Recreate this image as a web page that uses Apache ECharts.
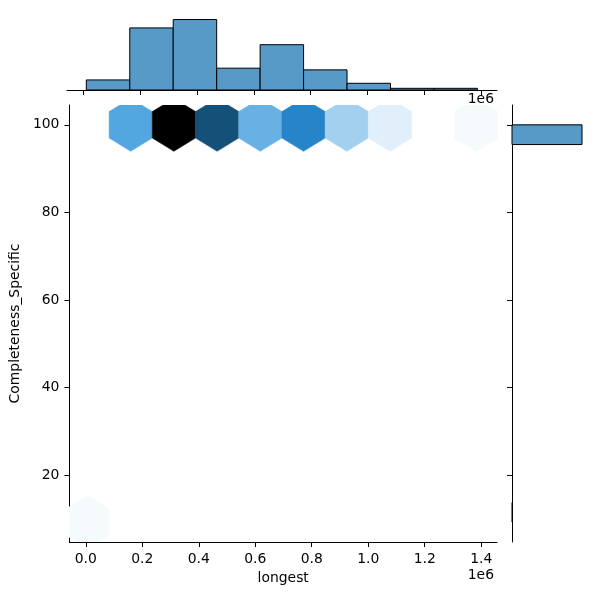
<!DOCTYPE html>
<html>
<head>
<meta charset="utf-8">
<script src="https://cdn.jsdelivr.net/npm/echarts@6/dist/echarts.min.js"></script>
<style>
html, body { margin: 0; padding: 0; background: #fff; }
#main { width: 600px; height: 600px; }
</style>
</head>
<body>
<div id="main"></div>
<script>
// ticks
var xTicks = [0, 200000, 400000, 600000, 800000, 1000000, 1200000, 1400000];
var yTicks = [20, 40, 60, 80, 100];

// top marginal histogram (longest)
var histEdges = [10000, 163000, 316000, 469000, 622000, 775000, 928000, 1081000, 1234000, 1387000];
var histCounts = [6, 37, 42, 13, 27, 12, 4, 1, 1];

// right marginal histogram (Completeness_Specific)
var yBinLow = [9.3, 95.5];
var yBinHigh = [13.8, 100];
var yBinCounts = [1, 142];

// hexbin cells
var hexX = [6000, 159000, 312000, 465000, 618000, 771000, 924000, 1077000, 1383000];
var hexY = [9.3, 100, 100, 100, 100, 100, 100, 100, 100];
var hexCounts = [1, 17, 43, 31, 15, 23, 9, 3, 1];
var hexW = 153000, hexR = 6.05;

var FONT = 'DejaVu Sans';
var FS = 13.9;

// seaborn style colormap: C0 hue, lightness 1 -> 0
function rgb2hls(r, g, b) {
	var mx = Math.max(r, g, b), mn = Math.min(r, g, b);
	var l = (mx + mn) / 2, h = 0, s = 0;
	if (mx != mn) {
		var d = mx - mn;
		s = l > 0.5 ? d / (2 - mx - mn) : d / (mx + mn);
		if (mx == r) h = ((g - b) / d) % 6;
		else if (mx == g) h = (b - r) / d + 2;
		else h = (r - g) / d + 4;
		h = h / 6; if (h < 0) h += 1;
	}
	return [h, l, s];
}
function hue2(p, q, t) {
	if (t < 0) t += 1; if (t > 1) t -= 1;
	if (t < 1/6) return p + (q - p) * 6 * t;
	if (t < 1/2) return q;
	if (t < 2/3) return p + (q - p) * (2/3 - t) * 6;
	return p;
}
function hls2rgb(h, l, s) {
	var q = l < 0.5 ? l * (1 + s) : l + s - l * s;
	var p = 2 * l - q;
	return [hue2(p, q, h + 1/3), hue2(p, q, h), hue2(p, q, h - 1/3)];
}
var base = rgb2hls(31/255, 119/255, 180/255);
var stops = [];
for (var i = 0; i < 12; i++) {
	stops.push(hls2rgb(base[0], 1 - i / 11, base[2]));
}
var maxCount = Math.max.apply(null, hexCounts);
function hexColor(c) {
	var t = c / maxCount * 11;
	var k = Math.min(Math.floor(t), 10);
	var f = t - k;
	var a = stops[k], b = stops[k + 1];
	var rgb = [0, 1, 2].map(function (j) {
		return Math.round(255 * Math.min(1, Math.max(0, a[j] + (b[j] - a[j]) * f)));
	});
	return 'rgb(' + rgb.join(',') + ')';
}

var hexData = hexX.map(function (x, i) { return [x, hexY[i], hexCounts[i]]; });
var topData = histCounts.map(function (c, i) { return [histEdges[i], histEdges[i + 1], c]; });
var rightData = yBinCounts.map(function (c, i) { return [yBinLow[i], yBinHigh[i], c]; });

var barColor = 'rgb(87,153,199)';

var chart = echarts.init(document.getElementById('main'));
chart.setOption({
	animation: false,
	backgroundColor: '#fff',
	grid: [
		{ left: 67, top: 105, width: 430, height: 437 },
		{ left: 67, top: 16, width: 430, height: 74 },
		{ left: 512, top: 105, width: 73.5, height: 437 }
	],
	xAxis: [
		{
			gridIndex: 0, type: 'value', min: -58000, max: 1456000,
			name: 'longest', nameLocation: 'middle', nameGap: 26,
			nameTextStyle: { color: '#000', fontFamily: FONT, fontSize: FS },
			axisLine: { show: true, onZero: false, lineStyle: { color: '#000', width: 1 } },
			axisTick: { show: true, length: 5, customValues: xTicks, lineStyle: { color: '#000' } },
			axisLabel: {
				customValues: xTicks, margin: 10, color: '#000', fontFamily: FONT, fontSize: FS,
				formatter: function (v) { return (v / 1e6).toFixed(1); }
			},
			splitLine: { show: false }
		},
		{
			gridIndex: 1, type: 'value', min: -58000, max: 1456000,
			axisLine: { show: true, onZero: false, lineStyle: { color: '#000', width: 1 } },
			axisTick: { show: true, length: 5, customValues: xTicks, lineStyle: { color: '#000' } },
			axisLabel: { show: false },
			splitLine: { show: false }
		},
		{
			gridIndex: 2, type: 'value', min: 0, max: 149.1, show: false
		}
	],
	yAxis: [
		{
			gridIndex: 0, type: 'value', min: 4.77, max: 104.53,
			name: 'Completeness_Specific', nameLocation: 'middle', nameGap: 36,
			nameTextStyle: { color: '#000', fontFamily: FONT, fontSize: FS },
			axisLine: { show: true, onZero: false, lineStyle: { color: '#000', width: 1 } },
			axisTick: { show: true, length: 5, customValues: yTicks, lineStyle: { color: '#000' } },
			axisLabel: { customValues: yTicks, margin: 10, color: '#000', fontFamily: FONT, fontSize: FS },
			splitLine: { show: false }
		},
		{
			gridIndex: 1, type: 'value', min: 0, max: 44.1, show: false
		},
		{
			gridIndex: 2, type: 'value', min: 4.77, max: 104.53,
			axisLine: { show: true, onZero: false, lineStyle: { color: '#000', width: 1 } },
			axisTick: { show: true, length: 5, customValues: yTicks, lineStyle: { color: '#000' } },
			axisLabel: { show: false },
			splitLine: { show: false }
		}
	],
	graphic: [
		{ type: 'text', right: 106, top: 568, style: { text: '1e6', fill: '#000', font: FS + 'px "' + FONT + '"' } },
		{ type: 'text', right: 106, top: 92, style: { text: '1e6', fill: '#000', font: FS + 'px "' + FONT + '"' } }
	],
	series: [
		{
			type: 'custom', xAxisIndex: 0, yAxisIndex: 0, clip: true,
			data: hexData,
			renderItem: function (params, api) {
				var cx = api.value(0), cy = api.value(1);
				var col = hexColor(api.value(2));
				var w = hexW / 2;
				var pts = [
					[cx + w, cy - hexR / 2], [cx + w, cy + hexR / 2], [cx, cy + hexR],
					[cx - w, cy + hexR / 2], [cx - w, cy - hexR / 2], [cx, cy - hexR]
				].map(function (p) { return api.coord(p); });
				return { type: 'polygon', shape: { points: pts }, style: { fill: col, stroke: col, lineWidth: 0.5 } };
			}
		},
		{
			type: 'custom', xAxisIndex: 1, yAxisIndex: 1,
			data: topData,
			renderItem: function (params, api) {
				var p0 = api.coord([api.value(0), api.value(2)]);
				var p1 = api.coord([api.value(1), 0]);
				return {
					type: 'rect',
					shape: { x: p0[0], y: p0[1], width: p1[0] - p0[0], height: p1[1] - p0[1] },
					style: { fill: barColor, stroke: '#000', lineWidth: 1 }
				};
			}
		},
		{
			type: 'custom', xAxisIndex: 2, yAxisIndex: 2,
			data: rightData,
			renderItem: function (params, api) {
				var p0 = api.coord([0, api.value(1)]);
				var p1 = api.coord([api.value(2), api.value(0)]);
				return {
					type: 'rect',
					shape: { x: p0[0], y: p0[1], width: p1[0] - p0[0], height: p1[1] - p0[1] },
					style: { fill: barColor, stroke: '#000', lineWidth: 1 }
				};
			}
		}
	]
});
</script>
</body>
</html>
